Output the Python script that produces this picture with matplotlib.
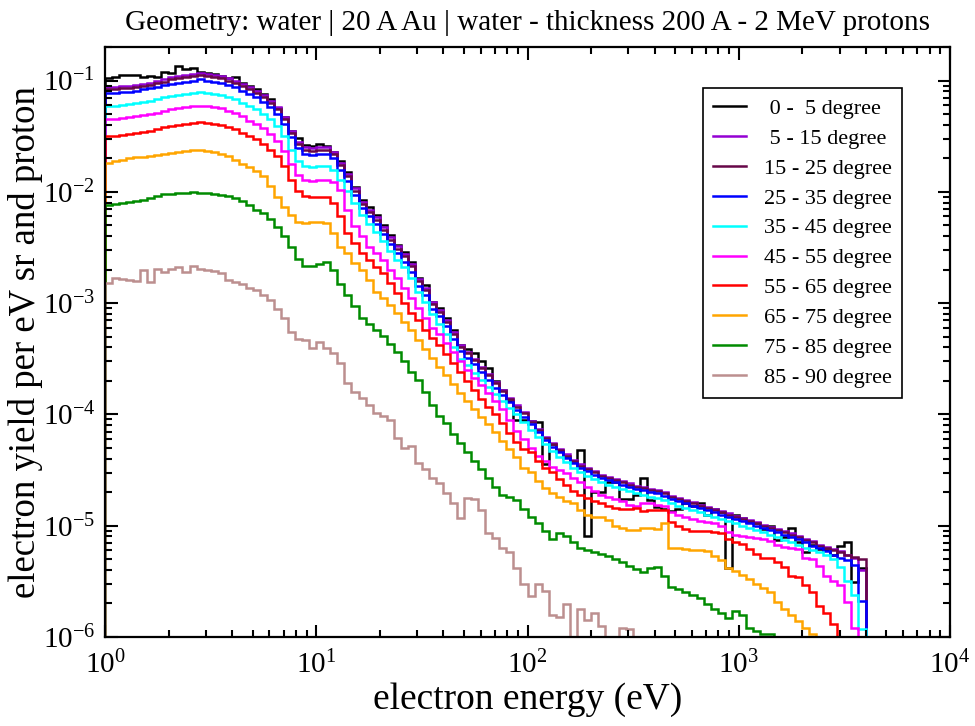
import numpy as np
import matplotlib
matplotlib.use("Agg")
import matplotlib.pyplot as plt

plt.rcParams["font.family"] = "Liberation Serif"
plt.rcParams["mathtext.fontset"] = "custom"
plt.rcParams["mathtext.rm"] = "Liberation Serif"
plt.rcParams["mathtext.it"] = "Liberation Serif:italic"
plt.rcParams["axes.unicode_minus"] = False

# histogram bins: 30 per decade from 1 eV up to ~4 keV (108 bins)
edges = np.logspace(0, 108 / 30, 109)

# log10 of yield per bin
black_0_5 = [
    -0.98, -0.97, -0.95, -0.95, -0.95, -0.97, -0.96, -0.97, -0.92, -0.93,
    -0.87, -0.90, -0.89, -0.92, -0.93, -0.94, -0.96, -0.98, -0.97, -1.02,
    -1.05, -1.08, -1.12, -1.17, -1.25, -1.33, -1.45, -1.52, -1.58, -1.59,
    -1.57, -1.59, -1.64, -1.72, -1.82, -1.96, -2.07, -2.14, -2.21, -2.30,
    -2.39, -2.48, -2.54, -2.63, -2.77, -2.84, -2.99, -3.04, -3.13, -3.24,
    -3.38, -3.41, -3.45, -3.52, -3.58, -3.70, -3.78, -3.88, -4.05, -4.05,
    -4.06, -4.07, -4.45, -4.27, -4.33, -4.38, -4.42, -4.32, -5.09, -4.70,
    -4.70, -4.61, -4.61, -4.76, -4.76, -4.72, -4.57, -4.77, -4.83, -4.85,
    -4.87, -4.85, -4.80, -4.82, -4.80, -4.90, -4.85, -4.88, -5.38, -4.90,
    -4.93, -4.97, -4.98, -5.03, -5.00, -5.13, -5.10, -5.02, -5.15, -5.24,
    -5.17, -5.21, -5.22, -5.26, -5.18, -5.15, -5.51, -5.38]
purple_5_15 = [
    -1.06, -1.06, -1.05, -1.05, -1.04, -1.03, -1.02, -1.00, -0.99, -0.97,
    -0.96, -0.95, -0.94, -0.93, -0.94, -0.95, -0.96, -0.98, -1.00, -1.03,
    -1.06, -1.09, -1.13, -1.18, -1.24, -1.33, -1.45, -1.55, -1.60, -1.61,
    -1.60, -1.60, -1.64, -1.74, -1.84, -1.97, -2.09, -2.16, -2.23, -2.32,
    -2.41, -2.49, -2.56, -2.65, -2.78, -2.86, -2.99, -3.06, -3.15, -3.26,
    -3.38, -3.44, -3.50, -3.57, -3.64, -3.71, -3.78, -3.85, -3.92, -3.98,
    -4.06, -4.13, -4.20, -4.26, -4.31, -4.36, -4.41, -4.45, -4.48, -4.51,
    -4.54, -4.56, -4.58, -4.60, -4.62, -4.64, -4.65, -4.67, -4.68, -4.70,
    -4.73, -4.75, -4.77, -4.79, -4.81, -4.83, -4.85, -4.87, -4.89, -4.91,
    -4.93, -4.95, -4.97, -4.99, -5.01, -5.03, -5.05, -5.07, -5.09, -5.12,
    -5.14, -5.17, -5.19, -5.21, -5.23, -5.26, -5.29, -5.40]
maroon_15_25 = [
    -1.08, -1.08, -1.07, -1.07, -1.06, -1.05, -1.04, -1.02, -1.01, -0.99,
    -0.98, -0.97, -0.96, -0.95, -0.96, -0.97, -0.98, -1.00, -1.02, -1.05,
    -1.08, -1.11, -1.15, -1.20, -1.26, -1.35, -1.47, -1.57, -1.62, -1.63,
    -1.62, -1.62, -1.66, -1.76, -1.86, -1.99, -2.11, -2.18, -2.25, -2.34,
    -2.43, -2.51, -2.58, -2.67, -2.80, -2.88, -3.01, -3.08, -3.17, -3.28,
    -3.39, -3.45, -3.51, -3.58, -3.65, -3.72, -3.79, -3.86, -3.93, -3.99,
    -4.07, -4.14, -4.21, -4.27, -4.32, -4.37, -4.42, -4.46, -4.49, -4.52,
    -4.55, -4.57, -4.59, -4.61, -4.63, -4.65, -4.66, -4.68, -4.69, -4.71,
    -4.74, -4.76, -4.78, -4.80, -4.82, -4.84, -4.86, -4.88, -4.90, -4.92,
    -4.94, -4.96, -4.98, -5.00, -5.02, -5.04, -5.06, -5.08, -5.10, -5.13,
    -5.15, -5.18, -5.20, -5.22, -5.24, -5.26, -5.28, -5.30]
blue_25_35 = [
    -1.11, -1.11, -1.10, -1.10, -1.09, -1.08, -1.07, -1.06, -1.04, -1.03,
    -1.02, -1.01, -1.00, -0.99, -1.00, -1.01, -1.02, -1.04, -1.06, -1.09,
    -1.12, -1.15, -1.19, -1.24, -1.30, -1.39, -1.51, -1.61, -1.66, -1.67,
    -1.66, -1.66, -1.70, -1.80, -1.90, -2.03, -2.15, -2.22, -2.29, -2.38,
    -2.47, -2.55, -2.63, -2.72, -2.85, -2.93, -3.05, -3.12, -3.21, -3.32,
    -3.43, -3.49, -3.55, -3.62, -3.69, -3.76, -3.83, -3.89, -3.96, -4.02,
    -4.09, -4.16, -4.23, -4.29, -4.34, -4.39, -4.44, -4.48, -4.51, -4.54,
    -4.57, -4.59, -4.61, -4.63, -4.65, -4.67, -4.68, -4.70, -4.71, -4.73,
    -4.76, -4.78, -4.80, -4.82, -4.84, -4.86, -4.88, -4.90, -4.92, -4.94,
    -4.96, -4.98, -5.00, -5.02, -5.04, -5.06, -5.08, -5.10, -5.12, -5.15,
    -5.18, -5.20, -5.23, -5.26, -5.29, -5.31, -5.35, -5.68]
cyan_35_45 = [
    -1.23, -1.23, -1.22, -1.21, -1.20, -1.19, -1.18, -1.17, -1.15, -1.14,
    -1.13, -1.12, -1.11, -1.10, -1.11, -1.12, -1.13, -1.15, -1.17, -1.20,
    -1.23, -1.26, -1.30, -1.35, -1.41, -1.50, -1.62, -1.72, -1.77, -1.78,
    -1.77, -1.77, -1.80, -1.89, -1.99, -2.10, -2.21, -2.29, -2.36, -2.44,
    -2.53, -2.61, -2.68, -2.77, -2.90, -2.99, -3.10, -3.19, -3.28, -3.39,
    -3.50, -3.56, -3.63, -3.69, -3.75, -3.82, -3.88, -3.94, -4.00, -4.07,
    -4.14, -4.20, -4.27, -4.33, -4.38, -4.43, -4.48, -4.52, -4.55, -4.58,
    -4.61, -4.63, -4.65, -4.67, -4.69, -4.71, -4.72, -4.74, -4.75, -4.77,
    -4.80, -4.82, -4.84, -4.86, -4.88, -4.90, -4.92, -4.94, -4.96, -4.98,
    -5.00, -5.02, -5.04, -5.06, -5.08, -5.10, -5.13, -5.15, -5.17, -5.20,
    -5.22, -5.24, -5.26, -5.30, -5.37, -5.50, -5.62, -5.93]
magenta_45_55 = [
    -1.35, -1.35, -1.34, -1.33, -1.32, -1.31, -1.30, -1.29, -1.27, -1.26,
    -1.25, -1.24, -1.23, -1.23, -1.23, -1.24, -1.25, -1.27, -1.29, -1.32,
    -1.36, -1.39, -1.43, -1.48, -1.54, -1.63, -1.75, -1.85, -1.89, -1.90,
    -1.89, -1.89, -1.91, -1.98, -2.16, -2.31, -2.40, -2.50, -2.55, -2.61,
    -2.70, -2.77, -2.86, -2.95, -3.04, -3.13, -3.22, -3.28, -3.36, -3.44,
    -3.52, -3.60, -3.67, -3.74, -3.81, -3.88, -3.95, -4.05, -4.15, -4.22,
    -4.30, -4.37, -4.42, -4.47, -4.50, -4.53, -4.57, -4.61, -4.65, -4.69,
    -4.72, -4.74, -4.76, -4.78, -4.81, -4.82, -4.80, -4.80, -4.81, -4.82,
    -4.88, -4.90, -4.92, -4.94, -4.96, -4.97, -4.98, -5.00, -5.06, -5.08,
    -5.09, -5.10, -5.11, -5.12, -5.14, -5.17, -5.19, -5.20, -5.21, -5.29,
    -5.30, -5.36, -5.45, -5.50, -5.53, -5.69, -5.92, -6.30]
red_55_65 = [
    -1.50, -1.50, -1.49, -1.48, -1.47, -1.46, -1.45, -1.44, -1.42, -1.41,
    -1.40, -1.39, -1.38, -1.37, -1.38, -1.39, -1.40, -1.42, -1.44, -1.47,
    -1.50, -1.53, -1.57, -1.62, -1.68, -1.77, -1.89, -1.99, -2.04, -2.05,
    -2.05, -2.05, -2.10, -2.22, -2.37, -2.46, -2.55, -2.61, -2.68, -2.73,
    -2.82, -2.91, -3.00, -3.09, -3.15, -3.24, -3.31, -3.38, -3.46, -3.54,
    -3.62, -3.70, -3.78, -3.86, -3.93, -4.00, -4.08, -4.17, -4.25, -4.31,
    -4.34, -4.42, -4.48, -4.52, -4.58, -4.63, -4.69, -4.72, -4.75, -4.78,
    -4.80, -4.82, -4.84, -4.85, -4.85, -4.84, -4.87, -4.86, -4.86, -4.86,
    -4.97, -5.00, -5.03, -5.05, -5.05, -5.05, -5.06, -5.07, -5.12, -5.15,
    -5.16, -5.21, -5.25, -5.29, -5.29, -5.33, -5.37, -5.45, -5.46, -5.53,
    -5.60, -5.72, -5.78, -5.88, -6.30, -6.30, -6.30, -6.30]
orange_65_75 = [
    -1.74, -1.72, -1.71, -1.70, -1.69, -1.69, -1.68, -1.67, -1.66, -1.65,
    -1.64, -1.63, -1.62, -1.62, -1.63, -1.64, -1.66, -1.68, -1.71, -1.75,
    -1.78, -1.81, -1.86, -1.95, -2.05, -2.14, -2.21, -2.27, -2.28, -2.27,
    -2.27, -2.28, -2.37, -2.50, -2.55, -2.64, -2.70, -2.79, -2.90, -2.95,
    -3.02, -3.09, -3.17, -3.24, -3.33, -3.41, -3.49, -3.57, -3.65, -3.73,
    -3.81, -3.88, -3.95, -4.02, -4.09, -4.16, -4.24, -4.31, -4.38, -4.48,
    -4.52, -4.60, -4.66, -4.71, -4.74, -4.78, -4.80, -4.86, -4.90, -4.92,
    -4.92, -4.95, -5.00, -5.02, -5.04, -5.04, -5.02, -5.02, -5.03, -4.98,
    -5.20, -5.20, -5.21, -5.22, -5.22, -5.23, -5.27, -5.31, -5.38, -5.41,
    -5.44, -5.48, -5.52, -5.56, -5.60, -5.69, -5.75, -5.80, -5.86, -5.92,
    -5.97, -6.30, -6.30, -6.30, -6.30, -6.30, -6.30, -6.30]
green_75_85 = [
    -2.12, -2.11, -2.10, -2.09, -2.08, -2.07, -2.06, -2.04, -2.02, -2.02,
    -2.01, -2.01, -2.00, -2.01, -2.01, -2.02, -2.03, -2.04, -2.06, -2.08,
    -2.12, -2.16, -2.19, -2.24, -2.32, -2.40, -2.50, -2.60, -2.67, -2.67,
    -2.65, -2.63, -2.70, -2.83, -2.93, -3.03, -3.13, -3.19, -3.24, -3.30,
    -3.37, -3.44, -3.52, -3.62, -3.69, -3.80, -3.92, -4.01, -4.08, -4.18,
    -4.26, -4.34, -4.42, -4.49, -4.57, -4.65, -4.72, -4.74, -4.77, -4.85,
    -4.92, -4.98, -5.05, -5.12, -5.07, -5.09, -5.15, -5.20, -5.22, -5.24,
    -5.25, -5.27, -5.30, -5.33, -5.36, -5.39, -5.42, -5.38, -5.37, -5.45,
    -5.55, -5.57, -5.60, -5.62, -5.65, -5.70, -5.75, -5.78, -5.83, -5.77,
    -5.80, -5.92, -5.95, -5.97, -5.97, -6.30, -6.30, -6.30, -6.30, -6.30,
    -6.30, -6.30, -6.30, -6.30, -6.30, -6.30, -6.30, -6.30]
brown_85_90 = [
    -2.82, -2.77, -2.78, -2.79, -2.80, -2.70, -2.81, -2.69, -2.72, -2.69,
    -2.68, -2.72, -2.67, -2.69, -2.70, -2.71, -2.73, -2.79, -2.81, -2.83,
    -2.86, -2.88, -2.93, -2.97, -3.05, -3.13, -3.26, -3.32, -3.33, -3.40,
    -3.35, -3.40, -3.45, -3.54, -3.72, -3.80, -3.85, -3.92, -3.99, -4.01,
    -4.05, -4.21, -4.30, -4.28, -4.44, -4.49, -4.57, -4.62, -4.71, -4.80,
    -4.93, -4.75, -4.76, -4.86, -5.07, -5.11, -5.20, -5.24, -5.38, -5.52,
    -5.63, -5.52, -5.59, -5.80, -5.82, -5.70, -6.30, -5.75, -5.85, -5.78,
    -5.90, -6.30, -6.30, -5.92, -5.93, -6.30, -6.30, -6.30, -6.30, -6.30,
    -6.30, -6.30, -6.30, -6.30, -6.30, -6.30, -6.30, -6.30, -6.30, -6.30,
    -6.30, -6.30, -6.30, -6.30, -6.30, -6.30, -6.30, -6.30, -6.30, -6.30,
    -6.30, -6.30, -6.30, -6.30, -6.30, -6.30, -6.30, -6.30]

labels = [" 0 -  5 degree", " 5 - 15 degree", "15 - 25 degree", "25 - 35 degree",
          "35 - 45 degree", "45 - 55 degree", "55 - 65 degree", "65 - 75 degree",
          "75 - 85 degree", "85 - 90 degree"]
series = [black_0_5, purple_5_15, maroon_15_25, blue_25_35, cyan_35_45,
          magenta_45_55, red_55_65, orange_65_75, green_75_85, brown_85_90]
colors = ["#000000", "#9400d3", "#670748", "#0000ff", "#00ffff",
          "#ff00ff", "#ff0000", "#ffa500", "#008b00", "#bc8f8f"]

fig = plt.figure(figsize=(9.75, 7.26), dpi=100)
ax = fig.add_axes([105 / 975, 1 - 637 / 726, 845 / 975, 590 / 726])

for vals, lab, col in zip(series, labels, colors):
    ax.stairs(10.0 ** np.array(vals), edges, baseline=1e-9, color=col,
              lw=1.8, label=lab)

ax.set_xscale("log")
ax.set_yscale("log")
ax.set_xlim(1, 1e4)
ax.set_ylim(1e-6, 0.2)

ax.tick_params(which="both", direction="in", top=True, right=True, width=1.5)
ax.tick_params(which="major", length=9, labelsize=21, pad=10)
ax.tick_params(axis="y", which="major", pad=7)
ax.tick_params(which="minor", length=5)
for sp in ax.spines.values():
    sp.set_linewidth(1.6)

ax.set_xlabel("electron energy (eV)", fontsize=27, labelpad=2)
ax.set_ylabel("electron yield per eV sr and proton", fontsize=26.5, labelpad=0)
ax.set_title("Geometry: water | 20 A Au | water - thickness 200 A - 2 MeV protons",
             fontsize=21, pad=12)

leg = ax.legend(loc="upper right", bbox_to_anchor=(0.943, 0.930), borderaxespad=0,
                fontsize=16, handlelength=1.5, handletextpad=0.8, labelspacing=0.42,
                borderpad=0.45, fancybox=False, framealpha=1, edgecolor="black")
leg.get_frame().set_linewidth(1.2)

fig.savefig("out.png", dpi=100)
